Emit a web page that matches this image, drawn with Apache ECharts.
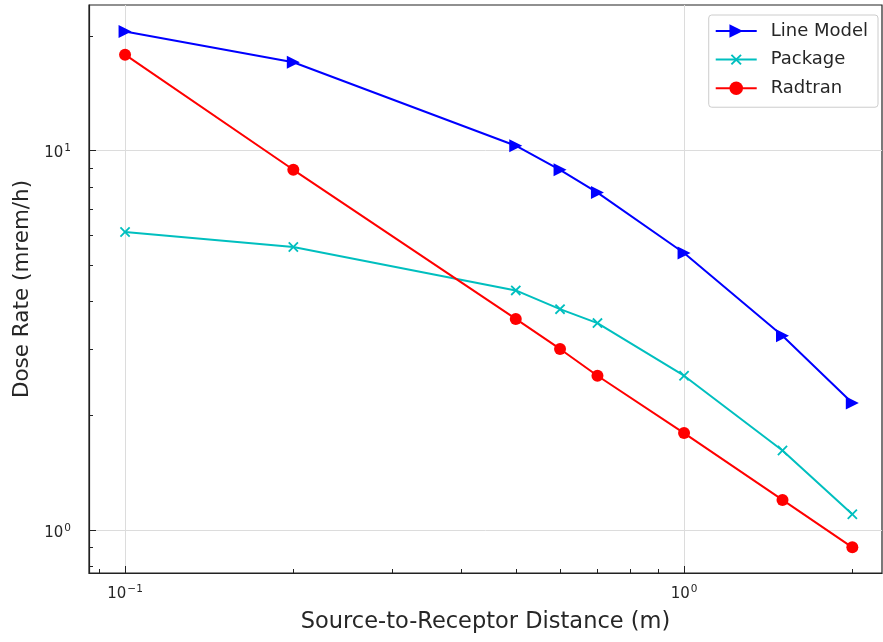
<!DOCTYPE html>
<html>
<head>
<meta charset="utf-8">
<script src="https://cdn.jsdelivr.net/npm/echarts@6/dist/echarts.min.js"></script>
<style>
  html, body { margin: 0; padding: 0; background: #fff; }
  #main { width: 883px; height: 642px; }
</style>
</head>
<body>
<div id="main"></div>
<script>
// distances (m)
var distance = [0.1, 0.2, 0.5, 0.6, 0.7, 1.0, 1.5, 2.0];
// dose rates (mrem/h)
var lineModel = [20.6, 17.1, 10.3, 8.9, 7.75, 5.37, 3.25, 2.16];
var packageVals = [6.1, 5.57, 4.28, 3.82, 3.51, 2.55, 1.62, 1.10];
var radtran = [17.9, 8.9, 3.6, 3.0, 2.55, 1.8, 1.2, 0.9];

var xMajor = [0.1, 1];
var xMinor = [0.09, 0.2, 0.3, 0.4, 0.5, 0.6, 0.7, 0.8, 0.9, 2];
var yMajor = [1, 10];
var yMinor = [0.8, 0.9, 2, 3, 4, 5, 6, 7, 8, 9, 20];

var font = 'DejaVu Sans';
var textColor = '#262626';

function pair(xs, ys) {
  var out = [];
  for (var i = 0; i < xs.length; i++) out.push([xs[i], ys[i]]);
  return out;
}

// 10^n label with a raised exponent
function powLabel(v) {
  var e = Math.round(Math.log10(v));
  return '{b|10}{s|' + (e < 0 ? '−' : '') + Math.abs(e) + '}';
}
var powRich = {
  b: { fontFamily: font, fontSize: 15, color: textColor, verticalAlign: 'bottom', lineHeight: 17 },
  s: { fontFamily: font, fontSize: 10.5, color: textColor, verticalAlign: 'bottom', lineHeight: 12, padding: [0, 0, 7, 1] }
};
var powRichY = {
  b: { fontFamily: font, fontSize: 15, color: textColor, verticalAlign: 'bottom', lineHeight: 17, padding: [0, 0, 0, 0] },
  s: { fontFamily: font, fontSize: 10.5, color: textColor, verticalAlign: 'bottom', lineHeight: 12, padding: [0, 0, 7, 1] }
};

var chart = echarts.init(document.getElementById('main'));

var xRange = { min: 0.0862, max: 2.26 };
var yRange = { min: 0.770, max: 24.2 };

var option = {
  animation: false,
  grid: {
    left: 89, right: 1, top: 5, bottom: 69,
    show: true, borderColor: '#222', borderWidth: 1.2
  },
  legend: {
    orient: 'vertical',
    right: 5, top: 15,
    itemWidth: 41, itemHeight: 17, itemGap: 10,
    padding: [7, 10, 10, 6],
    borderColor: '#cccccc', borderWidth: 1, borderRadius: 3,
    backgroundColor: '#fff',
    textStyle: { fontFamily: font, fontSize: 18, lineHeight: 18, color: textColor, padding: [0, 0, 0, 9] },
    data: ['Line Model', 'Package', 'Radtran']
  },
  xAxis: [{
    type: 'log', logBase: 10,
    min: xRange.min, max: xRange.max,
    name: 'Source-to-Receptor Distance (m)',
    nameLocation: 'middle', nameGap: 38,
    nameTextStyle: { fontFamily: font, fontSize: 22.5, color: textColor },
    axisLine: { lineStyle: { color: '#222', width: 1.2 } },
    axisTick: { inside: true, length: 7, customValues: xMajor, lineStyle: { color: '#222' } },
    axisLabel: { customValues: xMajor, formatter: powLabel, rich: powRich, margin: 12 },
    splitLine: { show: true, lineStyle: { color: '#dcdcdc', width: 1 } }
  }, {
    type: 'log', logBase: 10, position: 'bottom',
    min: xRange.min, max: xRange.max,
    axisLine: { show: false },
    axisTick: { inside: true, length: 4, customValues: xMinor, lineStyle: { color: '#222' } },
    axisLabel: { show: false },
    splitLine: { show: false }
  }],
  yAxis: [{
    type: 'log', logBase: 10,
    min: yRange.min, max: yRange.max,
    name: 'Dose Rate (mrem/h)',
    nameLocation: 'middle', nameGap: 49,
    nameTextStyle: { fontFamily: font, fontSize: 21.5, color: textColor },
    axisLine: { show: true, lineStyle: { color: '#222', width: 1.2 } },
    axisTick: { show: true, inside: true, length: 7, customValues: yMajor, lineStyle: { color: '#222' } },
    axisLabel: { customValues: yMajor, formatter: powLabel, rich: powRichY, margin: 18,
      padding: [4, 0, 0, 0] },
    splitLine: { show: true, lineStyle: { color: '#dcdcdc', width: 1 } }
  }, {
    type: 'log', logBase: 10, position: 'left',
    min: yRange.min, max: yRange.max,
    axisLine: { show: false },
    axisTick: { show: true, inside: true, length: 4, customValues: yMinor, lineStyle: { color: '#222' } },
    axisLabel: { show: false },
    splitLine: { show: false }
  }],
  series: [{
    name: 'Line Model',
    type: 'line',
    data: pair(distance, lineModel),
    symbol: 'triangle', symbolSize: 13, symbolRotate: -90,
    showAllSymbol: true,
    lineStyle: { color: '#0000ff', width: 2 },
    itemStyle: { color: '#0000ff' }
  }, {
    name: 'Package',
    type: 'line',
    data: pair(distance, packageVals),
    symbol: 'path://M4.3,0H5.7V4.3H10V5.7H5.7V10H4.3V5.7H0V4.3H4.3Z',
    symbolSize: 13, symbolRotate: 45,
    showAllSymbol: true,
    lineStyle: { color: '#00bfbf', width: 2 },
    itemStyle: { color: '#00bfbf' }
  }, {
    name: 'Radtran',
    type: 'line',
    data: pair(distance, radtran),
    symbol: 'circle', symbolSize: 12,
    showAllSymbol: true,
    lineStyle: { color: '#ff0000', width: 2 },
    itemStyle: { color: '#ff0000' }
  }]
};

chart.setOption(option);
</script>
</body>
</html>
